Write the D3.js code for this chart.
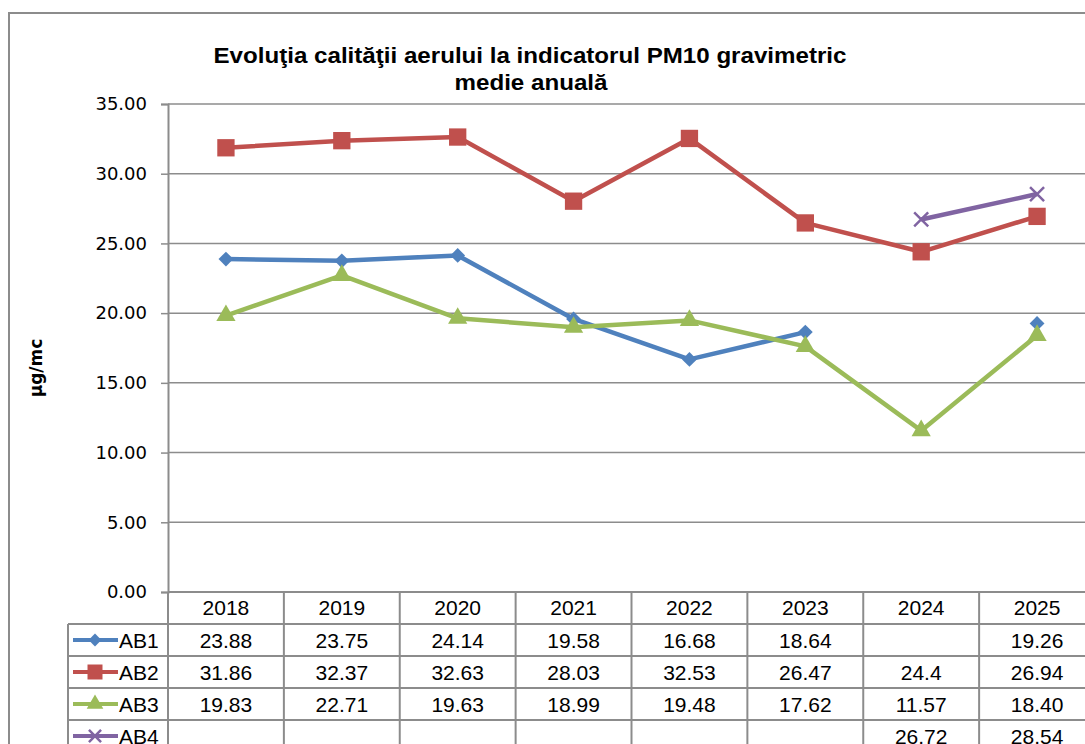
<!DOCTYPE html>
<html>
<head>
<meta charset="utf-8">
<script src="https://cdn.jsdelivr.net/npm/d3@7"></script>
<style>
  body { margin: 0; background: #fff; }
  svg { display: block; }
</style>
</head>
<body>
<script>
var years = ["2018", "2019", "2020", "2021", "2022", "2023", "2024", "2025"];
var ab1 = [23.88, 23.75, 24.14, 19.58, 16.68, 18.64, null, 19.26];
var ab2 = [31.86, 32.37, 32.63, 28.03, 32.53, 26.47, 24.4, 26.94];
var ab3 = [19.83, 22.71, 19.63, 18.99, 19.48, 17.62, 11.57, 18.40];
var ab4 = [null, null, null, null, null, null, 26.72, 28.54];
var labelsAB1 = ["23.88", "23.75", "24.14", "19.58", "16.68", "18.64", "", "19.26"];
var labelsAB2 = ["31.86", "32.37", "32.63", "28.03", "32.53", "26.47", "24.4", "26.94"];
var labelsAB3 = ["19.83", "22.71", "19.63", "18.99", "19.48", "17.62", "11.57", "18.40"];
var labelsAB4 = ["", "", "", "", "", "", "26.72", "28.54"];
var yTicks = [0, 5, 10, 15, 20, 25, 30, 35];

var series = [
  {name: "AB1", values: ab1, labels: labelsAB1, color: "#4F81BD", symbol: d3.symbolDiamond2, size: 140},
  {name: "AB2", values: ab2, labels: labelsAB2, color: "#C0504D", symbol: d3.symbolSquare, size: 300},
  {name: "AB3", values: ab3, labels: labelsAB3, color: "#9BBB59", symbol: d3.symbolTriangle, size: 160},
  {name: "AB4", values: ab4, labels: labelsAB4, color: "#8064A2", symbol: d3.symbolX, size: 130}
];

var width = 1085, height = 744;
var plotLeft = 168, plotRight = 1095, plotTop = 104, plotBottom = 592;
var rowH = 32, legendLeft = 68;
var gridColor = "#8c8c8c";

var svg = d3.select("body").append("svg")
    .attr("width", width)
    .attr("height", height);

// outer chart frame
svg.append("rect")
    .attr("x", 9).attr("y", 13)
    .attr("width", 1200).attr("height", 900)
    .attr("fill", "none").attr("stroke", gridColor).attr("stroke-width", 2);

// title
var title = svg.append("text")
    .attr("text-anchor", "middle")
    .attr("font-family", "Liberation Sans, Arial, sans-serif")
    .attr("font-weight", "bold")
    .attr("font-size", 22)
    .attr("fill", "#000");
title.append("tspan").attr("x", 530).attr("y", 63)
    .attr("textLength", 633).attr("lengthAdjust", "spacingAndGlyphs")
    .text("Evoluţia calităţii aerului la indicatorul PM10 gravimetric");
title.append("tspan").attr("x", 531).attr("y", 90)
    .attr("textLength", 153).attr("lengthAdjust", "spacingAndGlyphs")
    .text("medie anuală");

var x = d3.scaleBand().domain(years).range([plotLeft, plotRight]);
var y = d3.scaleLinear().domain([0, 35]).range([plotBottom, plotTop]);

// gridlines
svg.append("g").selectAll("line")
    .data(yTicks.filter(function(d) { return d > 0; }))
    .enter().append("line")
    .attr("x1", plotLeft).attr("x2", plotRight)
    .attr("y1", function(d) { return y(d); })
    .attr("y2", function(d) { return y(d); })
    .attr("stroke", gridColor).attr("stroke-width", 1.5);

// y axis
var yAxis = svg.append("g")
    .attr("transform", "translate(" + plotLeft + ",0)")
    .call(d3.axisLeft(y).tickValues(yTicks).tickFormat(d3.format(".2f")).tickSize(7).tickPadding(14));
yAxis.select(".domain").attr("stroke", gridColor).attr("stroke-width", 2);
yAxis.selectAll(".tick line").attr("stroke", gridColor).attr("stroke-width", 1.5);
yAxis.selectAll("text")
    .attr("font-family", "DejaVu Sans, sans-serif")
    .attr("font-size", 18)
    .attr("fill", "#000");

// y axis title
svg.append("text")
    .attr("transform", "translate(42,368) rotate(-90)")
    .attr("text-anchor", "middle")
    .attr("font-family", "DejaVu Sans, sans-serif")
    .attr("font-weight", "bold")
    .attr("font-size", 17)
    .text("µg/mc");

// series lines and markers
var line = d3.line()
    .defined(function(d) { return d != null; })
    .x(function(d, i) { return x(years[i]) + x.bandwidth() / 2; })
    .y(function(d) { return y(d); });

series.forEach(function(s) {
  var g = svg.append("g");
  g.append("path")
      .datum(s.values)
      .attr("d", line)
      .attr("fill", "none")
      .attr("stroke", s.color)
      .attr("stroke-width", 4.5)
      .attr("stroke-linejoin", "round");
  var pts = s.values.map(function(v, i) { return {v: v, i: i}; }).filter(function(d) { return d.v != null; });
  g.selectAll("path.m").data(pts).enter().append("path")
      .attr("class", "m")
      .attr("d", d3.symbol().type(s.symbol).size(s.size))
      .attr("transform", function(d) {
        return "translate(" + (x(years[d.i]) + x.bandwidth() / 2) + "," + y(d.v) + ")";
      })
      .attr("fill", s.color)
      .attr("stroke", s.color)
      .attr("stroke-width", s.symbol === d3.symbolX ? 2.5 : 0);
});

// data table
var tbl = svg.append("g");
var tableBottom = plotBottom + rowH * (series.length + 1);

// horizontal row lines
for (var r = 0; r <= series.length + 1; r++) {
  tbl.append("line")
      .attr("x1", r === 0 ? plotLeft : legendLeft).attr("x2", plotRight)
      .attr("y1", plotBottom + r * rowH).attr("y2", plotBottom + r * rowH)
      .attr("stroke", gridColor).attr("stroke-width", 2);
}
// vertical column lines
years.forEach(function(yr) {
  tbl.append("line")
      .attr("x1", x(yr)).attr("x2", x(yr))
      .attr("y1", plotBottom).attr("y2", tableBottom)
      .attr("stroke", gridColor).attr("stroke-width", 2);
});
tbl.append("line")
    .attr("x1", legendLeft).attr("x2", legendLeft)
    .attr("y1", plotBottom + rowH).attr("y2", tableBottom)
    .attr("stroke", gridColor).attr("stroke-width", 2);

var tableFont = "Liberation Sans, Arial, sans-serif";
// header years
tbl.selectAll("text.yr").data(years).enter().append("text")
    .attr("x", function(d) { return x(d) + x.bandwidth() / 2; })
    .attr("y", plotBottom + rowH / 2 + 7)
    .attr("text-anchor", "middle")
    .attr("font-family", tableFont).attr("font-size", 21)
    .text(function(d) { return d; });

series.forEach(function(s, k) {
  var cy = plotBottom + rowH * (k + 1) + rowH / 2;
  // legend key
  tbl.append("line")
      .attr("x1", 73).attr("x2", 118)
      .attr("y1", cy).attr("y2", cy)
      .attr("stroke", s.color).attr("stroke-width", 4);
  tbl.append("path")
      .attr("d", d3.symbol().type(s.symbol).size(s.size * 0.75))
      .attr("transform", "translate(95," + cy + ")")
      .attr("fill", s.color).attr("stroke", s.color)
      .attr("stroke-width", s.symbol === d3.symbolX ? 2.5 : 0);
  tbl.append("text")
      .attr("x", 119).attr("y", cy + 7.5)
      .attr("font-family", tableFont).attr("font-size", 21)
      .text(s.name);
  tbl.selectAll("text.v" + k).data(s.labels).enter().append("text")
      .attr("x", function(d, i) { return x(years[i]) + x.bandwidth() / 2; })
      .attr("y", cy + 7.5)
      .attr("text-anchor", "middle")
      .attr("font-family", tableFont).attr("font-size", 21)
      .text(function(d) { return d; });
});
</script>
</body>
</html>
